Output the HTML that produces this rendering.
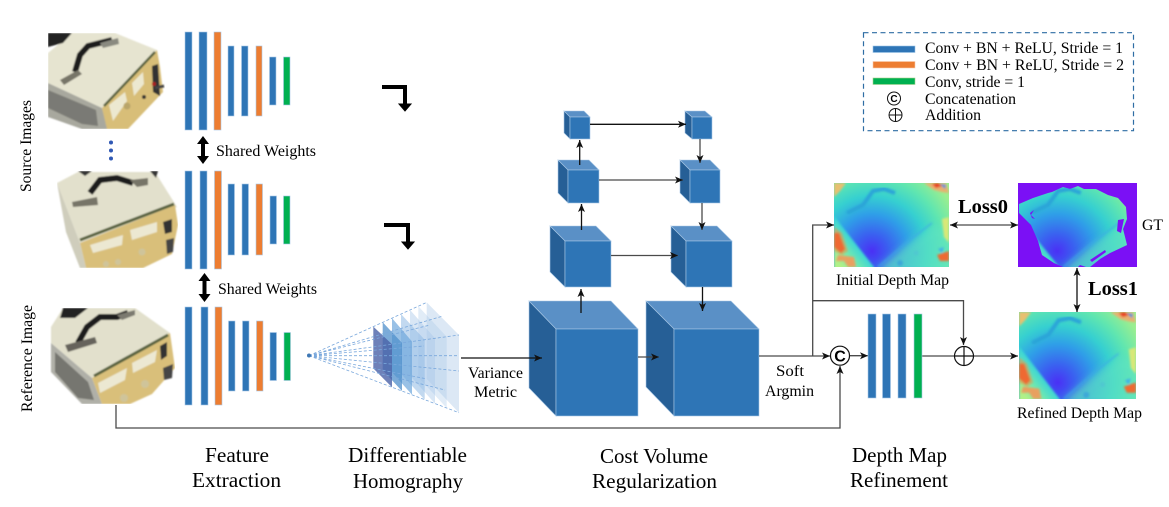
<!DOCTYPE html>
<html><head><meta charset="utf-8"><style>
html,body{margin:0;padding:0;background:#fff}
svg{display:block}
text{font-family:"Liberation Serif",serif;fill:#000}
.f{stroke:#a9c8e6;stroke-width:.6}
.b{fill:#2e75b6}.o{fill:#ed7d31}.g{fill:#00b050}
.l{fill:none;stroke:#4a4a4a;stroke-width:1.3}
.k{fill:none;stroke:#111;stroke-width:1.3}
</style></head><body>
<svg width="1169" height="507" viewBox="0 0 1169 507" xmlns="http://www.w3.org/2000/svg">
<defs>
<marker id="a" markerUnits="userSpaceOnUse" markerWidth="9" markerHeight="8" refX="8" refY="4" orient="auto-start-reverse"><path d="M0,.5L8,4L0,7.5L2,4Z" fill="#111"/></marker>
<filter id="bl" x="-5%" y="-5%" width="110%" height="110%"><feGaussianBlur stdDeviation=".7"/></filter>
<filter id="bm" x="-5%" y="-5%" width="110%" height="110%"><feGaussianBlur stdDeviation="1"/></filter>
<filter id="bh" x="-20%" y="-20%" width="140%" height="140%"><feGaussianBlur stdDeviation="4"/></filter>
<radialGradient id="dg" gradientUnits="userSpaceOnUse" cx="38" cy="68" r="92">
<stop offset="0" stop-color="#4a30f5"/><stop offset=".18" stop-color="#3a60f0"/><stop offset=".4" stop-color="#2f9ee8"/><stop offset=".6" stop-color="#36d0d0"/><stop offset=".8" stop-color="#60e6b0"/><stop offset="1" stop-color="#9aee90"/></radialGradient>
<linearGradient id="wd" gradientUnits="userSpaceOnUse" x1="22" y1="60" x2="2" y2="76"><stop offset="0" stop-color="#38d4d8"/><stop offset=".5" stop-color="#70e8b0"/><stop offset="1" stop-color="#b0f088"/></linearGradient>
<clipPath id="dc"><rect width="115" height="84"/></clipPath>
<g id="dbase">
<rect width="115" height="84" fill="url(#dg)"/>
<path d="M46,84L72,62L100,42L125,50V90H46Z" fill="#60e4c0" opacity=".65" filter="url(#bh)"/>
<path d="M0,100L0,33L40,84V100Z" fill="url(#wd)" filter="url(#bm)"/>
<path d="M13,30L29,22L39,8L50,6L61,10" fill="none" stroke="#2aa4d8" stroke-width="4" filter="url(#bm)"/>
<path d="M44,84L72,60L98,40" fill="none" stroke="#3aa8e8" stroke-width="1.5" opacity=".7" filter="url(#bm)"/>
</g>
<g id="depth" clip-path="url(#dc)">
<use href="#dbase"/>
<g filter="url(#bm)">
<path d="M0,50L5,50L11,66L7,70L0,64Z" fill="#ee3a20"/>
<path d="M0,44L3,46L8,50L14,68L8,72L0,68Z" fill="#f09040" opacity=".55"/>
<path d="M4,72L20,74L22,84H14L10,78L2,78Z" fill="#e8a060"/>
<path d="M0,0H12L6,8L0,14Z" fill="#e8c070"/>
<path d="M90,0H112L115,10L108,9L100,7Z" fill="#e8b070"/>
<path d="M98,1L102,5L108,3L104,0Z" fill="#e84020"/>
<path d="M106,1L112,2L111,6Z" fill="#3090e0"/>
<path d="M108,36L115,34V60L110,54Z" fill="#d8e878"/>
<path d="M103,72L115,68V78L106,78Z" fill="#ee6a30"/>
<path d="M104,66L110,64L108,70Z" fill="#40b0e8"/>
<circle cx="66" cy="80" r="3" fill="#3ca8d8"/><circle cx="82" cy="70" r="2.5" fill="#50c8d0"/>
</g></g>
<clipPath id="gc"><path d="M1,21L15,15L30,10L34,9L45,4L52,6L60,3L66,6L78,6L90,12L100,15L108,24L109,36L105,46L109,62L92,70L82,76L72,84H45L36,80L24,72L20,58L13,42L1,30Z"/></clipPath>
<clipPath id="c1"><rect x="48" y="33" width="117" height="96"/></clipPath>
<clipPath id="c2"><rect x="57" y="171" width="121" height="97"/></clipPath>
<clipPath id="c3"><rect x="50" y="308" width="125" height="96"/></clipPath>
</defs>

<!-- photos -->
<g clip-path="url(#c1)"><g filter="url(#bl)">
<path d="M48,53L72,33H115L157,50L102,108L48,83Z" fill="#e6e4d0"/>
<path d="M48,33H72L63,43L48,47Z" fill="#222"/>
<path d="M48,83L102,108L108,129H82L48,117Z" fill="#a8a89e"/>
<path d="M48,90L96,110L98,126L82,124L48,108Z" fill="#7a7a74"/>
<path d="M157,50L160,67L163,92L128,129H107L102,108Z" fill="#d8be78"/>
<path d="M155,52L104,106" stroke="#5a6440" stroke-width="2.500" fill="none"/>
<path d="M109,105L125,92L127,101L113,121Z" fill="#ece8d0"/>
<path d="M132,83L143,72L144,84L134,96Z" fill="#ece8d0"/>
<path d="M152,66L158,64L160,96L153,92Z" fill="#333"/>
<circle cx="154" cy="84" r="2" fill="#a22"/><path d="M155,88L164,86" stroke="#444" stroke-width="3"/>
<circle cx="127" cy="106" r="3.500" fill="#b9a56a"/><circle cx="144" cy="97" r="2" fill="#333"/>
<path d="M75,72L80,55L88,46L100,43L112,40" fill="none" stroke="#1a1a1a" stroke-width="6"/>
<path d="M60,80L78,70L82,74L64,85Z" fill="#777468"/>
<path d="M100,43L118,38L119,44L103,48Z" fill="#8a8a80"/>
</g></g>
<g clip-path="url(#c2)"><g filter="url(#bl)">
<path d="M57,183L78,172H155L177,207L80,243Z" fill="#e2e0cc"/>
<path d="M78,171H92L85,176Z" fill="#333"/>
<path d="M150,171H158L156,178Z" fill="#333"/>
<path d="M80,243L175,205L178,225L172,254L143,268H86Z" fill="#d9bf7a"/>
<path d="M57,183L80,243L86,268H80L66,232Z" fill="#cfcdbc"/>
<path d="M80,240L174,204" stroke="#5a6440" stroke-width="3"/>
<path d="M90,245L123,235L122,245L93,253Z" fill="#ece8d2"/>
<path d="M130,230L157,222L157,232L132,240Z" fill="#ece8d2"/>
<path d="M163,222L172,219V232L165,234Z" fill="#333"/>
<path d="M166,240L174,238L173,252L167,254Z" fill="#444"/>
<circle cx="142" cy="252" r="3.500" fill="#cfc49a"/><circle cx="106" cy="264" r="3" fill="#cfc49a"/><circle cx="118" cy="262" r="3" fill="#cfc49a"/>
<path d="M90,193L100,180L117,178L133,183" fill="none" stroke="#1a1a1a" stroke-width="6"/>
<path d="M72,202L97,197L98,205L73,207Z" fill="#777468"/>
<path d="M130,180L148,178V185L137,187Z" fill="#777468"/>
</g></g>
<g clip-path="url(#c3)"><g filter="url(#bl)">
<path d="M51,327L63,308H135L170,333L92,378L51,343Z" fill="#e2e0cc"/>
<path d="M63,308H88L75,318H60Z" fill="#222"/>
<path d="M51,343L92,378L102,404H82L51,372Z" fill="#b0b0a8"/>
<path d="M55,352L88,382L94,400L78,398L55,372Z" fill="#76766f"/>
<path d="M92,378L170,333L175,368L152,394L130,404H102Z" fill="#d9bf7a"/>
<path d="M94,376L168,335" stroke="#5a6440" stroke-width="3"/>
<path d="M98,383L127,368L125,380L100,393Z" fill="#ece8d2"/>
<path d="M132,363L157,350L155,362L133,373Z" fill="#ece8d2"/>
<path d="M160,346L167,342V356L161,360Z" fill="#333"/>
<circle cx="145" cy="384" r="4" fill="#cfc49a"/><circle cx="124" cy="398" r="4" fill="#cfc49a"/>
<path d="M163,368L173,364L172,378L164,380Z" fill="#444"/>
<path d="M78,343L87,327L100,317L117,317L128,313" fill="none" stroke="#1a1a1a" stroke-width="6"/>
<path d="M65,345L95,337L97,343L68,352Z" fill="#66645c"/>
<path d="M117,315L135,310V315L122,320Z" fill="#7c7a70"/>
</g></g>

<!-- bars -->
<g class="f">
<rect class="b" x="185" y="32" width="7" height="98"/><rect class="b" x="199" y="32" width="8" height="98"/><rect class="o" x="214" y="32" width="7" height="98"/>
<rect class="b" x="228" y="46" width="6" height="70"/><rect class="b" x="241.5" y="46" width="6.5" height="70"/><rect class="o" x="256" y="46" width="6" height="70"/>
<rect class="b" x="269.500" y="57" width="6.500" height="48"/><rect class="g" x="283.500" y="57" width="6.500" height="48"/>
<rect class="b" x="185" y="171" width="7" height="98"/><rect class="b" x="200" y="171" width="7" height="98"/><rect class="o" x="214.500" y="171" width="7" height="98"/>
<rect class="b" x="228" y="184" width="6.500" height="71"/><rect class="b" x="242" y="184" width="6.500" height="71"/><rect class="o" x="256" y="184" width="6.500" height="71"/>
<rect class="b" x="270" y="196" width="6.500" height="48"/><rect class="g" x="283.500" y="196" width="6.500" height="48"/>
<rect class="b" x="185" y="307" width="7" height="98"/><rect class="b" x="201" y="307" width="7" height="98"/><rect class="o" x="215" y="307" width="7" height="98"/>
<rect class="b" x="228.500" y="321" width="6.500" height="70"/><rect class="b" x="242.500" y="321" width="6.500" height="70"/><rect class="o" x="256.500" y="321" width="6.500" height="70"/>
<rect class="b" x="270" y="332.500" width="6.500" height="48"/><rect class="g" x="284" y="332.500" width="6.500" height="48"/>
</g>

<!-- dots, double arrows -->
<g fill="#2f58b4"><circle cx="111" cy="142.500" r="2"/><circle cx="111" cy="150.500" r="2"/><circle cx="111" cy="158.500" r="2"/></g>
<path d="M203,142V158" stroke="#000" stroke-width="4"/><path d="M203,136L209,144H197ZM203,164L209,156H197Z" fill="#000"/>
<path d="M204.500,279V296" stroke="#000" stroke-width="4"/><path d="M204.500,273L210.500,281H198.500ZM204.500,302L210.500,294H198.500Z" fill="#000"/>

<!-- bent arrows -->
<path d="M382,87H405V104" fill="none" stroke="#000" stroke-width="4"/><path d="M399,104H411L405,111Z" fill="#000" stroke="#000"/>
<path d="M384,225H408V243" fill="none" stroke="#000" stroke-width="4"/><path d="M402,242H414L408,249Z" fill="#000" stroke="#000"/>

<!-- homography -->
<g>
<path d="M426.700,302.400L459,335V412.700L426.700,378.900Z" fill="#dce8f5"/>
<path d="M418.300,306.200L446.700,336.700V408L418.300,377.200Z" fill-opacity=".35" fill="#a8c8e8"/>
<path d="M410,309.900L435,338.300V403.600L410,375.600Z" fill-opacity=".45" fill="#a8c8e8"/>
<path d="M401,314L424.700,339.700V399.700L401,373.800Z" fill-opacity=".55" fill="#8fbae4"/>
<path d="M392,318.100L412,341.500V394.800L392,372.100Z" fill-opacity=".7" fill="#6ea6dc"/>
<path d="M382.700,322.300L402,342.900V391L382.700,370.200Z" fill-opacity=".75" fill="#4f8fcb"/>
<path d="M373.300,326.600L392,344.200V387.200L373.300,368.400Z" fill-opacity=".8" fill="#4a62a8"/>
</g>
<g fill="none" stroke="#7aa8dc" stroke-width=".8" stroke-dasharray="3 2">
<path d="M309,355.700L426.700,302.400M309,355.700L459,335M309,355.700L459,412.700M309,355.700L426.700,378.900M309,355.700L459,355.700M309,355.700L459,371M309,355.700L443,316M309,355.700L430,325M309,355.700L445,390M309,355.700L424,346"/>
</g>
<circle cx="309" cy="355.500" r="2" fill="#3f78b4"/>

<!-- cubes -->
<g class="f">
<path d="M529,301H611L638,329H556Z" fill="#5a90c6"/><path d="M529,301L556,329V416L529,388Z" fill="#265f96"/><rect class="b" x="556" y="329" width="82" height="87"/>
<path d="M646,301H731L759,329H674Z" fill="#5a90c6"/><path d="M646,301L674,329V416L646,387Z" fill="#265f96"/><rect class="b" x="674" y="329" width="85" height="87"/>
<path d="M550,226H596L611,241H565Z" fill="#5a90c6"/><path d="M550,226L565,241V287L550,272Z" fill="#265f96"/><rect class="b" x="565" y="241" width="46" height="46"/>
<path d="M671,226H717L732,241H686Z" fill="#5a90c6"/><path d="M671,226L686,241V287L671,272Z" fill="#265f96"/><rect class="b" x="686" y="241" width="46" height="46"/>
<path d="M558,160H589L599,170H568Z" fill="#5a90c6"/><path d="M558,160L568,170V203L558,193Z" fill="#265f96"/><rect class="b" x="568" y="170" width="31" height="33"/>
<path d="M680,160H710L720,170H690Z" fill="#5a90c6"/><path d="M680,160L690,170V203L680,193Z" fill="#265f96"/><rect class="b" x="690" y="170" width="30" height="33"/>
<path d="M564,111H584L590,117H570Z" fill="#5a90c6"/><path d="M564,111L570,117V139L564,133Z" fill="#265f96"/><rect class="b" x="570" y="117" width="20" height="22"/>
<path d="M685,111H705L712,117H692Z" fill="#5a90c6"/><path d="M685,111L692,117V139L685,133Z" fill="#265f96"/><rect class="b" x="692" y="117" width="20" height="22"/>
</g>

<!-- cube connectors -->
<g marker-end="url(#a)">
<path class="k" d="M461,358H542"/>
<path class="k" d="M590,124.300H686"/>
<path class="l" d="M599,180H683"/>
<path class="l" d="M611,255.500H678"/>
<path class="l" d="M638,357H659"/>
<path class="k" d="M581,313V289"/>
<path class="k" d="M581.500,230V204"/>
<path class="k" d="M579.700,165V140"/>
<path class="l" d="M700,139V163"/>
<path class="l" d="M702,203V230"/>
<path class="k" d="M702.500,287V311"/>
</g>

<!-- right connectors -->
<path class="l" d="M759,356H830" marker-end="url(#a)"/>
<path class="l" d="M812.700,356V225H834" marker-end="url(#a)"/>
<path class="l" d="M812.700,300.700H963.500V345" marker-end="url(#a)"/>
<path class="l" d="M116,405V428H840V366" marker-end="url(#a)"/>
<path class="l" d="M850,355.700H868" marker-end="url(#a)"/>
<path class="l" d="M922,356H954M974,356H1018" marker-end="url(#a)"/>
<path class="l" d="M950,225H1018" marker-start="url(#a)" marker-end="url(#a)"/>
<path class="k" d="M1077,268V312" marker-start="url(#a)" marker-end="url(#a)"/>
<circle cx="840" cy="355.700" r="9.500" fill="#fff" stroke="#111" stroke-width="1.200"/>
<text x="840" y="361.500" font-size="16" font-weight="bold" text-anchor="middle" style="font-family:'Liberation Sans',sans-serif">C</text>
<circle cx="964" cy="356" r="9.500" fill="none" stroke="#111" stroke-width="1.200"/><path d="M954.500,356H973.500M964,346.500V365.500" stroke="#111" stroke-width="1.200"/>

<!-- refinement bars -->
<g class="f"><rect class="b" x="868" y="314" width="8" height="84"/><rect class="b" x="882.500" y="314" width="8" height="84"/><rect class="b" x="898" y="314" width="8" height="84"/><rect class="g" x="914" y="314" width="8" height="84"/></g>

<!-- depth maps -->
<use href="#depth" x="834" y="183"/>
<g transform="translate(1019,312) scale(1.017,1.036)"><use href="#depth"/></g>
<rect x="1018" y="183" width="119" height="84" fill="#7b10f5"/>
<g transform="translate(1018,183)"><g clip-path="url(#gc)"><g transform="scale(1.03,1)"><use href="#dbase"/></g></g>
<path d="M12,30L16,27L13,32L17,36L14,35Z" fill="#7b10f5"/>
<path d="M100,37L106,36L103,50L99,48Z" fill="#7b10f5"/>
<path d="M72,77L87,67L88,69L74,79ZM62,82L68,84H60Z" fill="#7b10f5"/>
</g>

<!-- legend -->
<rect x="863.500" y="32.700" width="270" height="98" fill="none" stroke="#2e6da4" stroke-width="1.200" stroke-dasharray="5 3.500"/>
<rect x="873" y="46" width="42" height="6.500" fill="#2e75b6" stroke="#9cc3e6" stroke-width=".6"/>
<rect x="873" y="61.500" width="42" height="6.500" fill="#ed7d31" stroke="#f8cbad" stroke-width=".6"/>
<rect x="873" y="78" width="42" height="6.500" fill="#00b050" stroke="#a9d18e" stroke-width=".6"/>
<circle cx="894" cy="98.500" r="6.500" fill="none" stroke="#111"/><text x="894" y="102" font-size="10" font-weight="bold" text-anchor="middle" style="font-family:'Liberation Sans',sans-serif">C</text>
<circle cx="895.500" cy="115" r="6.500" fill="none" stroke="#111"/><path d="M889,115H902M895.500,108.500V121.500" stroke="#111"/>
<g font-size="15.700">
<text x="925" y="53" textLength="198" lengthAdjust="spacingAndGlyphs">Conv + BN + ReLU, Stride = 1</text>
<text x="925" y="70" textLength="199" lengthAdjust="spacingAndGlyphs">Conv + BN + ReLU, Stride = 2</text>
<text x="925" y="87" textLength="100" lengthAdjust="spacingAndGlyphs">Conv, stride = 1</text>
<text x="925" y="104" textLength="91" lengthAdjust="spacingAndGlyphs">Concatenation</text>
<text x="925" y="120" textLength="56" lengthAdjust="spacingAndGlyphs">Addition</text>
</g>

<!-- labels -->
<g font-size="15.700">
<text transform="translate(31,192) rotate(-90)" textLength="92" lengthAdjust="spacingAndGlyphs">Source Images</text>
<text transform="translate(32,412) rotate(-90)" textLength="107" lengthAdjust="spacingAndGlyphs">Reference Image</text>
<text x="216" y="156" textLength="100" lengthAdjust="spacingAndGlyphs">Shared Weights</text>
<text x="218" y="294" textLength="99" lengthAdjust="spacingAndGlyphs">Shared Weights</text>
<text x="468" y="378" textLength="55" lengthAdjust="spacingAndGlyphs">Variance</text>
<text x="474" y="397" textLength="43" lengthAdjust="spacingAndGlyphs">Metric</text>
<text x="776" y="376" textLength="28" lengthAdjust="spacingAndGlyphs">Soft</text>
<text x="765" y="396" textLength="49" lengthAdjust="spacingAndGlyphs">Argmin</text>
<text x="836" y="285" textLength="113" lengthAdjust="spacingAndGlyphs">Initial Depth Map</text>
<text x="1017" y="418" textLength="125" lengthAdjust="spacingAndGlyphs">Refined Depth Map</text>
<text x="1142" y="230" textLength="21" lengthAdjust="spacingAndGlyphs">GT</text>
</g>
<text x="958" y="213" font-size="20.400" font-weight="bold" textLength="50" lengthAdjust="spacingAndGlyphs">Loss0</text>
<text x="1088" y="295" font-size="20.400" font-weight="bold" textLength="50" lengthAdjust="spacingAndGlyphs">Loss1</text>
<g font-size="21">
<text x="205" y="462" textLength="64" lengthAdjust="spacingAndGlyphs">Feature</text>
<text x="192" y="487" textLength="89" lengthAdjust="spacingAndGlyphs">Extraction</text>
<text x="348" y="462" textLength="119" lengthAdjust="spacingAndGlyphs">Differentiable</text>
<text x="353" y="488" textLength="110" lengthAdjust="spacingAndGlyphs">Homography</text>
<text x="600" y="463" textLength="108" lengthAdjust="spacingAndGlyphs">Cost Volume</text>
<text x="592" y="488" textLength="125" lengthAdjust="spacingAndGlyphs">Regularization</text>
<text x="852" y="462" textLength="95" lengthAdjust="spacingAndGlyphs">Depth Map</text>
<text x="850" y="487" textLength="98" lengthAdjust="spacingAndGlyphs">Refinement</text>
</g>
</svg>
</body></html>
